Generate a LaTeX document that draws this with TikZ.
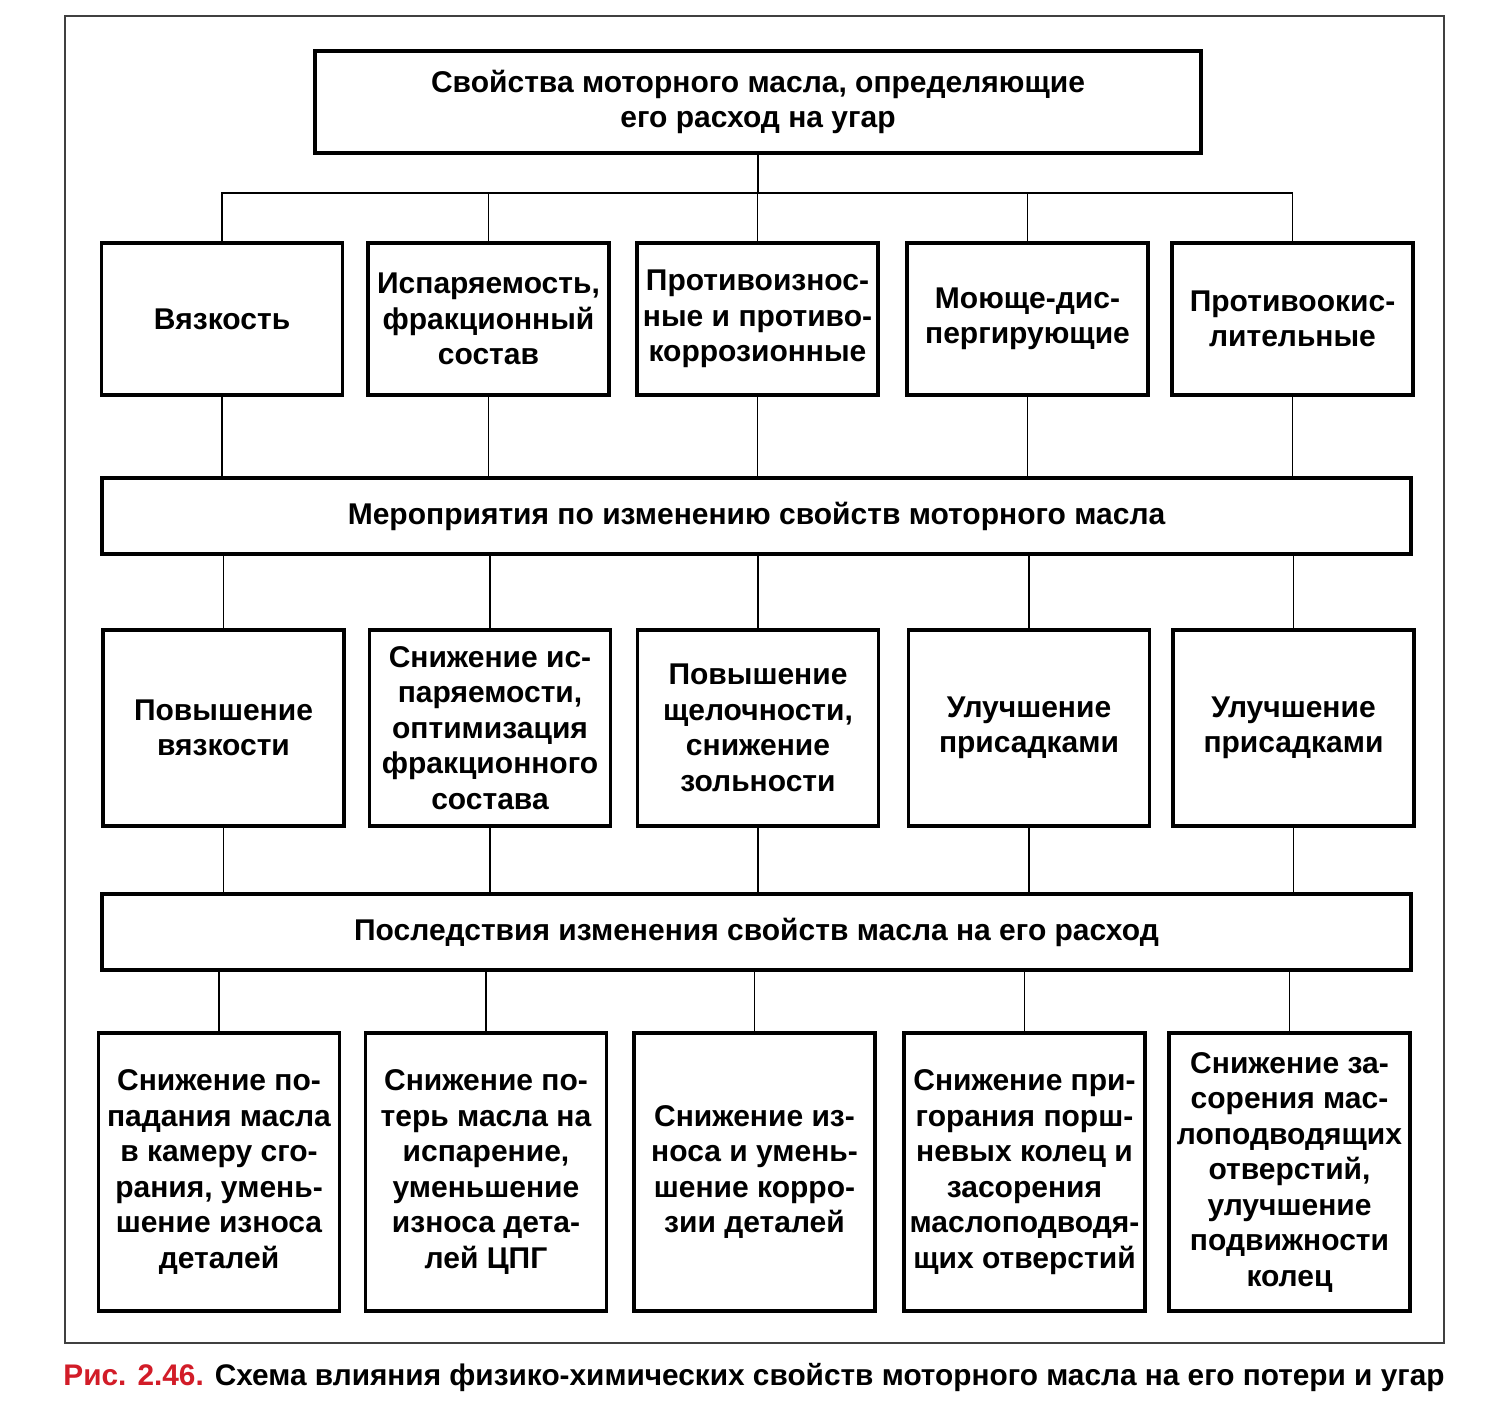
\documentclass[tikz,border=0pt]{standalone}
\usepackage{fontspec}
\setmainfont{Liberation Sans}
\definecolor{capred}{RGB}{210,28,40}
\tikzset{
  box/.style={draw, line width=3.5pt, inner sep=0pt, align=center,
    font=\bfseries\fontsize{30}{35.5}\selectfont, anchor=center},
  rowone/.style={box, minimum width=241pt, minimum height=152pt},
  rowtwo/.style={box, minimum width=241pt, minimum height=196pt},
  rowthree/.style={box, minimum width=241pt, minimum height=278pt},
  bar/.style={box, minimum width=1309pt, minimum height=76pt},
  conn/.style={line width=1.4pt},
}
\begin{document}
\begin{tikzpicture}[x=1pt,y=-1pt]
\useasboundingbox[fill=white] (0,0) rectangle (1506,1419);
\draw[line width=1.3pt, black!75] (65,16) rectangle (1444,1343);

\node[box, minimum width=886pt, minimum height=102pt] (top) at (758,102)
  {Свойства моторного масла, определяющие\\его расход на угар};

\node[rowone] (a1) at (222,319) {Вязкость};
\node[rowone] (a2) at (488.5,319) {Испаряемость,\\фракционный\\состав};
\node[rowone] (a3) at (757.5,319) {Противоизнос-\\ные и противо-\\коррозионные};
\node[rowone] (a4) at (1027.5,319) {Моюще-дис-\\пергирующие};
\node[rowone] (a5) at (1292.5,319) {Противоокис-\\лительные};

\node[bar] (m1) at (756.5,516) {Мероприятия по изменению свойств моторного масла};

\node[rowtwo] (b1) at (223.5,728) {Повышение\\вязкости};
\node[rowtwo] (b2) at (490,728) {Снижение ис-\\паряемости,\\оптимизация\\фракционного\\состава};
\node[rowtwo] (b3) at (758,728) {Повышение\\щелочности,\\снижение\\зольности};
\node[rowtwo] (b4) at (1029,728) {Улучшение\\присадками};
\node[rowtwo] (b5) at (1293.5,728) {Улучшение\\присадками};

\node[bar] (m2) at (756.5,932) {Последствия изменения свойств масла на его расход};

\node[rowthree] (c1) at (219,1172) {Снижение по-\\падания масла\\в камеру сго-\\рания, умень-\\шение износа\\деталей};
\node[rowthree] (c2) at (486,1172) {Снижение по-\\терь масла на\\испарение,\\уменьшение\\износа дета-\\лей ЦПГ};
\node[rowthree] (c3) at (754.5,1172) {Снижение из-\\носа и умень-\\шение корро-\\зии деталей};
\node[rowthree] (c4) at (1024.5,1172) {Снижение при-\\горания порш-\\невых колец и\\засорения\\маслоподводя-\\щих отверстий};
\node[rowthree] (c5) at (1289.5,1172) {Снижение за-\\сорения мас-\\лоподводящих\\отверстий,\\улучшение\\подвижности\\колец};

% connectors
\coordinate (bus) at (758,193);
\draw[conn] (top.south) -- (bus);
\draw[conn] (a1.north) -- (a1.north |- bus) -- (a5.north |- bus) -- (a5.north);
\foreach \n in {a2,a3,a4} \draw[conn] (\n.north) -- (\n.north |- bus);
\foreach \n in {a1,a2,a3,a4,a5} \draw[conn] (\n.south) -- (\n.south |- m1.north);
\foreach \n in {b1,b2,b3,b4,b5} \draw[conn] (\n.north) -- (\n.north |- m1.south);
\foreach \n in {b1,b2,b3,b4,b5} \draw[conn] (\n.south) -- (\n.south |- m2.north);
\foreach \n in {c1,c2,c3,c4,c5} \draw[conn] (\n.north) -- (\n.north |- m2.south);

\node[font=\bfseries\fontsize{29.8}{36}\selectfont, inner sep=0pt] (cap) at (754,1377)
  {\textcolor{capred}{Рис. 2.46.} Схема влияния физико-химических свойств моторного масла на его потери и угар};
\end{tikzpicture}
\end{document}
